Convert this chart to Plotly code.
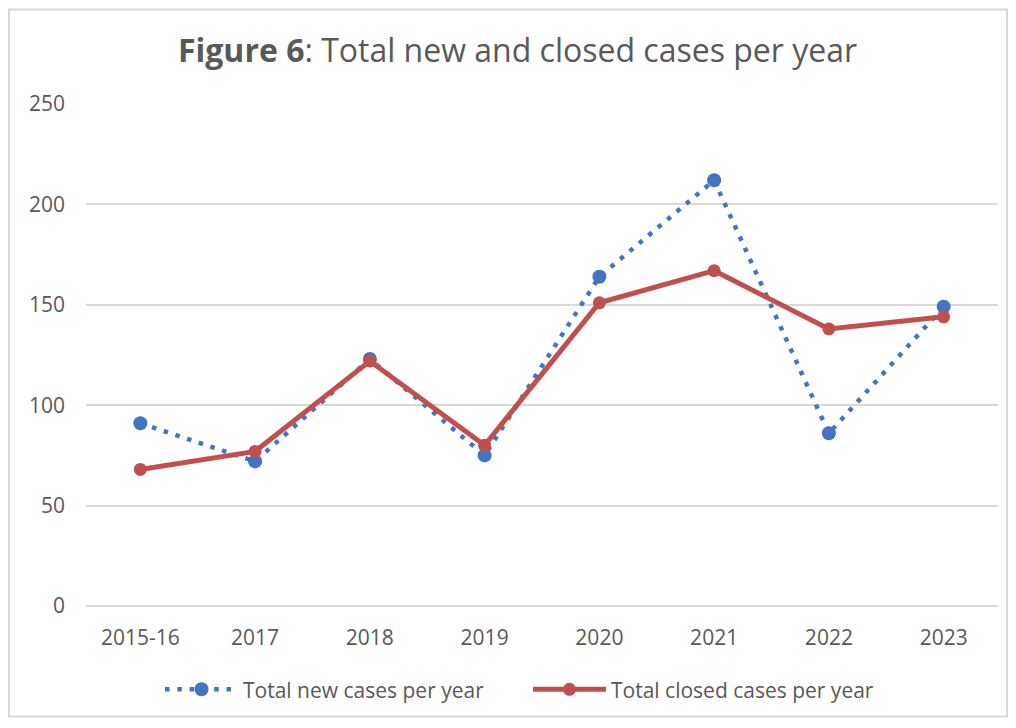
import plotly.graph_objects as go

years = ["2015-16", "2017", "2018", "2019", "2020", "2021", "2022", "2023"]
new_cases = [91, 72, 123, 75, 164, 212, 86, 149]
closed_cases = [68, 77, 122, 80, 151, 167, 138, 144]
y_ticks = [0, 50, 100, 150, 200, 250]

BLUE = "#4472c4"
RED = "#c0504d"
TEXT = "#595959"
FONT = "'Open Sans', sans-serif"

# page has an 8px body margin, so the figure is sized to fit inside it
W, H = 1000, 712
M = dict(l=78, r=10, t=96, b=112)
pw = W - M["l"] - M["r"]
ph = H - M["t"] - M["b"]

fig = go.Figure()

fig.add_trace(go.Scatter(
    x=years,
    y=new_cases,
    mode="lines+markers",
    name="Total new cases per year",
    line=dict(color=BLUE, width=4.5, dash="4.5px,7.8px"),
    marker=dict(color=BLUE, size=14),
))
fig.add_trace(go.Scatter(
    x=years,
    y=closed_cases,
    mode="lines+markers",
    name="Total closed cases per year",
    line=dict(color=RED, width=5),
    marker=dict(color=RED, size=13),
))

# light outer frame like the exported chart
fig.add_shape(
    type="rect", xref="paper", yref="paper", layer="below",
    x0=(1 - M["l"]) / pw, x1=(W - 1 - M["l"]) / pw,
    y0=-(H - 1 - M["t"] - ph) / ph, y1=1 + (M["t"] - 1) / ph,
    line=dict(color="#d9d9d9", width=2),
)

fig.update_xaxes(
    showgrid=False, showline=False, ticks="",
    tickfont=dict(family=FONT, size=21, color=TEXT),
    ticklabelstandoff=17,
)
fig.update_yaxes(
    range=[0, 250], tickvals=y_ticks,
    showgrid=True, gridcolor="#d9d9d9", gridwidth=1.5,
    zeroline=True, zerolinecolor="#d9d9d9", zerolinewidth=1.5,
    tickfont=dict(family=FONT, size=21, color=TEXT),
    ticklabelstandoff=20,
)

fig.update_layout(
    width=W,
    height=H,
    title=dict(
        text="<b>Figure 6</b>: Total new and closed cases per year",
        x=509.5 / W, xref="container", xanchor="center",
        y=1 - 43 / H, yref="container", yanchor="middle",
        font=dict(family=FONT, size=32, color=TEXT),
    ),
    legend=dict(
        orientation="h", x=(157 - 5 - M["l"]) / pw, xanchor="left",
        y=-84 / ph, yanchor="middle",
        font=dict(family=FONT, size=21, color=TEXT),
        itemwidth=73, entrywidthmode="pixels", entrywidth=280,
    ),
    plot_bgcolor="white",
    paper_bgcolor="white",
    margin=M,
)

fig.write_html("out.html")
